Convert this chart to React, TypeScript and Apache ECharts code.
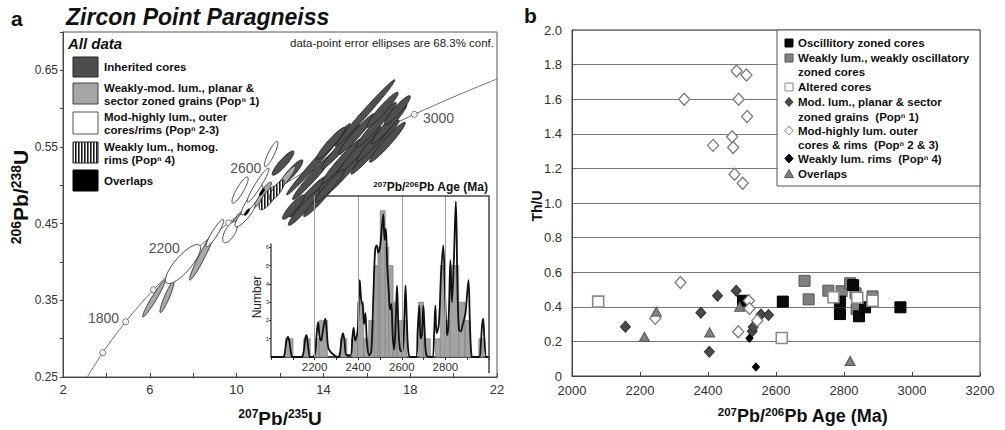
import React, { useEffect, useRef } from 'react';
import * as echarts from 'echarts';

const FONT = '"Liberation Sans", Arial, Helvetica, sans-serif';

// ---------- Panel a: concordia (values read / tabulated) ----------
const concordiaAges = [1438, 1500, 1600, 1700, 1800, 1900, 2000, 2100, 2200, 2300, 2400, 2500, 2600, 2700, 2800, 2900, 3000, 3100, 3184];
const concordiaX = [3.122, 3.381, 3.834, 4.335, 4.887, 5.496, 6.169, 6.911, 7.73, 8.633, 9.63, 10.73, 11.944, 13.283, 14.762, 16.393, 18.193, 20.179, 22.0];
const concordiaY = [0.25, 0.262, 0.2817, 0.3018, 0.3221, 0.3428, 0.3638, 0.3851, 0.4067, 0.4287, 0.4511, 0.4738, 0.4968, 0.5202, 0.544, 0.5681, 0.5926, 0.6175, 0.6387];
const concordiaMarkerAges = [1600, 1800, 2000, 2200, 2400, 2600, 2800, 3000];
const concordiaLabelAges = [1800, 2200, 2600, 3000];

// error ellipses: [207Pb/235U, 206Pb/238U, sx, sy, rho]
const inheritedCores = [
  [13.26, 0.4848, 0.823, 0.0261, 0.962],
  [13.91, 0.4852, 0.823, 0.0261, 0.962],
  [13.56, 0.5126, 0.984, 0.0312, 0.973],
  [14.38, 0.5085, 0.984, 0.0312, 0.973],
  [13.77, 0.534, 1.47, 0.0466, 0.991],
  [15.02, 0.5181, 0.984, 0.0312, 0.973],
  [14.85, 0.5319, 0.919, 0.0291, 0.969],
  [14.83, 0.5504, 0.919, 0.0291, 0.969],
  [16.38, 0.5499, 1.114, 0.0353, 0.979],
  [15.65, 0.5462, 0.984, 0.0312, 0.973],
  [15.54, 0.5673, 0.823, 0.0261, 0.962],
  [15.92, 0.5942, 1.372, 0.0435, 0.99],
  [16.46, 0.5606, 0.919, 0.0291, 0.969],
  [16.44, 0.5791, 0.919, 0.0291, 0.969],
  [17.03, 0.58, 0.823, 0.0261, 0.962],
  [16.72, 0.5986, 0.726, 0.023, 0.951],
  [17.41, 0.5981, 0.598, 0.0189, 0.927],
  [13.11, 0.4708, 0.726, 0.023, 0.951],
  [12.62, 0.4715, 0.502, 0.0159, 0.897],
  [14.3, 0.4993, 0.662, 0.021, 0.941],
  [14.34, 0.5547, 0.662, 0.021, 0.941],
  [16.95, 0.5563, 0.823, 0.0261, 0.962],
  [12.14, 0.529, 0.502, 0.0159, 0.897],
  [12.55, 0.5173, 0.502, 0.0159, 0.897],
];
const pop1Ellipses = [
  [6.19, 0.3523, 0.52, 0.0241, 0.966],
  [6.79, 0.3543, 0.324, 0.0204, 0.923],
  [8.41, 0.4078, 0.578, 0.0314, 0.964],
  [9.97, 0.4521, 0.387, 0.0151, 0.902],
  [11.17, 0.4873, 0.438, 0.0172, 0.924],
  [12.28, 0.5095, 0.439, 0.0156, 0.919],
];
const pop23Ellipses = [
  [7.53, 0.3973, 0.806, 0.0255, 0.812],
  [9.0, 0.4377, 0.408, 0.0178, 0.918],
  [9.7, 0.439, 0.341, 0.0139, 0.651],
  [10.39, 0.4612, 0.466, 0.0154, 0.863],
  [10.71, 0.4808, 0.499, 0.0195, 0.896],
  [11.59, 0.5407, 0.309, 0.0165, 0.868],
  [10.16, 0.4938, 0.373, 0.0171, 0.868],
  [10.99, 0.5003, 0.502, 0.0222, 0.946],
];
const pop4Ellipses = [
  [11.45, 0.4834, 0.416, 0.0154, 0.754],
  [11.86, 0.4938, 0.351, 0.0132, 0.783],
];
const overlapEllipses = [
  [10.48, 0.4651, 0.12, 0.0045, 0.8],
  [11.17, 0.4912, 0.12, 0.0045, 0.8],
];

// ---------- Inset: 207Pb/206Pb age histogram + probability curve ----------
const histBins = [
  [2066, 2101, 1], [2150, 2180, 1], [2200, 2222, 1], [2222, 2260, 2], [2318, 2348, 1], [2371, 2397, 1],
  [2397, 2425, 3], [2425, 2448, 1], [2448, 2474, 2], [2474, 2490, 5], [2490, 2501, 6], [2501, 2524, 8],
  [2524, 2540, 6], [2540, 2560, 5], [2560, 2578, 3], [2578, 2600, 2], [2600, 2624, 2], [2677, 2700, 3],
  [2700, 2731, 1], [2754, 2777, 1], [2777, 2800, 5], [2800, 2822, 2], [2822, 2861, 5], [2861, 2890, 3],
  [2890, 2914, 2], [2953, 2976, 1],
];
const pdpCurve = [
  [2000, 0], [2055, 0], [2064, 0.3], [2071, 0.9], [2078, 1.1], [2085, 0.8], [2092, 0.2], [2100, 0],
  [2140, 0], [2150, 0.3], [2157, 1.0], [2163, 1.2], [2170, 0.6], [2180, 0],
  [2200, 0.1], [2209, 1.2], [2216, 1.9], [2223, 1.1], [2230, 0.9], [2240, 1.6], [2249, 2.1], [2256, 1.3], [2263, 0.5], [2275, 0.25], [2290, 0.1], [2305, 0],
  [2315, 0.1], [2323, 0.9], [2330, 1.3], [2337, 0.9], [2346, 0.1],
  [2365, 0.1], [2373, 1.0], [2379, 1.6], [2386, 0.9], [2398, 1.5], [2407, 4.2], [2414, 3.1], [2421, 2.8], [2427, 1.8], [2433, 2.4], [2440, 0.8], [2450, 0.1],
  [2460, 0.3], [2470, 3.5], [2478, 5.9], [2485, 6.1], [2492, 5.7], [2500, 6.0], [2508, 7.0], [2515, 7.8], [2521, 6.4], [2527, 7.0], [2533, 5.0], [2540, 3.6], [2546, 2.6], [2552, 2.9], [2558, 1.2], [2565, 0.4],
  [2572, 2.0], [2578, 3.9], [2584, 1.8], [2592, 0.4], [2602, 0.3], [2610, 1.5], [2617, 3.9], [2623, 2.0], [2630, 0.3], [2640, 0],
  [2665, 0], [2673, 1.5], [2680, 2.8], [2686, 1.0], [2692, 1.2], [2699, 2.8], [2705, 1.4], [2713, 0.1],
  [2740, 0], [2748, 1.2], [2754, 2.8], [2760, 1.3], [2770, 1.8], [2780, 4.5], [2790, 6.1], [2797, 4.0], [2804, 1.7], [2810, 1.2], [2816, 2.5], [2823, 5.3], [2830, 3.0], [2838, 5.0], [2848, 8.5], [2855, 4.0], [2862, 1.5],
  [2870, 1.4], [2880, 1.8], [2892, 2.4], [2900, 3.5], [2906, 4.2], [2912, 2.0], [2918, 0.3], [2925, 0],
  [2955, 0], [2962, 0.6], [2968, 1.7], [2973, 2.1], [2979, 1.0], [2988, 0], [3000, 0],
];
const insetGridAges = [2200, 2400, 2600, 2800];
const insetTickLabels = [2200, 2400, 2600, 2800];
const insetCountTicks = [1, 2, 3, 4, 5, 6];

// ---------- Panel b: Th/U vs age ----------
const oscillatoryCores = [[2503, 0.435], [2620, 0.43], [2788, 0.43], [2788, 0.358], [2827, 0.525], [2844, 0.345], [2862, 0.397], [2966, 0.397]];
const weaklyOscCores = [[2684, 0.55], [2696, 0.443], [2754, 0.493], [2793, 0.49], [2818, 0.536], [2834, 0.478], [2837, 0.387], [2884, 0.46]];
const alteredCores = [[2077, 0.43], [2617, 0.22], [2769, 0.455], [2839, 0.453], [2884, 0.435]];
const pop1Grains = [[2157, 0.285], [2379, 0.366], [2404, 0.14], [2428, 0.464], [2483, 0.493], [2530, 0.258], [2533, 0.283], [2556, 0.355], [2578, 0.352]];
const pop23Rims = [
  [2484, 1.763], [2513, 1.74], [2330, 1.6], [2490, 1.6], [2515, 1.5], [2471, 1.383], [2415, 1.333], [2474, 1.321], [2478, 1.166], [2502, 1.114],
  [2319, 0.54], [2245, 0.333], [2520, 0.435], [2522, 0.39], [2489, 0.256], [2545, 0.32],
];
const pop4Rims = [[2522, 0.218], [2541, 0.052]];
const overlapsB = [[2213, 0.227], [2248, 0.372], [2405, 0.252], [2493, 0.4], [2818, 0.087]];

// ---------- helpers ----------
function hatchPattern(): any {
  const c = document.createElement('canvas');
  c.width = 3;
  c.height = 3;
  const g = c.getContext('2d');
  if (g) {
    g.fillStyle = '#ffffff';
    g.fillRect(0, 0, 3, 3);
    g.fillStyle = '#1a1a1a';
    g.fillRect(0, 0, 1.6, 3);
  }
  return { image: c, repeat: 'repeat', imageWidth: 3, imageHeight: 3 };
}

function ellipseRenderer(style: any) {
  return (params: any, api: any) => {
    const c = api.coord([api.value(0), api.value(1)]);
    const sz = api.size([api.value(2), api.value(3)]);
    const r = api.value(4);
    const p = Math.abs(sz[0]);
    const q = Math.abs(sz[1]);
    const a2 = p * p;
    const b2 = q * q;
    const cov = r * p * q;
    const mid = (a2 + b2) / 2;
    const d = Math.sqrt(((a2 - b2) / 2) ** 2 + cov * cov);
    const ra = Math.sqrt(mid + d);
    const rb = Math.sqrt(Math.max(mid - d, 1));
    const phi = 0.5 * Math.atan2(2 * cov, a2 - b2);
    const pts: number[][] = [];
    for (let i = 0; i < 60; i++) {
      const t = (i / 60) * Math.PI * 2;
      const X = ra * Math.cos(t) * Math.cos(phi) - rb * Math.sin(t) * Math.sin(phi);
      const Y = ra * Math.cos(t) * Math.sin(phi) + rb * Math.sin(t) * Math.cos(phi);
      pts.push([c[0] + X, c[1] - Y]);
    }
    return { type: 'polygon', shape: { points: pts }, style: { ...style } };
  };
}

function txt(x: number, y: number, text: string, o: any = {}) {
  return {
    type: 'text',
    x,
    y,
    z: 100,
    rotation: o.rotation || 0,
    style: {
      text,
      fill: o.fill || '#111',
      fontFamily: FONT,
      fontSize: o.fontSize || 11,
      fontWeight: o.fontWeight || 'normal',
      fontStyle: o.fontStyle || 'normal',
      textAlign: o.align || 'left',
      textVerticalAlign: 'middle',
    },
  };
}

function supText(x: number, y: number, parts: [string, boolean][], main: number, sup: number, o: any = {}) {
  const text = parts.map(([t, s]) => `{${s ? 's' : 'm'}|${t}}`).join('');
  return {
    type: 'text',
    x,
    y,
    z: 100,
    rotation: o.rotation || 0,
    style: {
      text,
      textAlign: o.align || 'center',
      textVerticalAlign: 'middle',
      rich: {
        m: { fontSize: main, fontWeight: 'bold', fontFamily: FONT, fill: '#111', lineHeight: main + 2 },
        s: { fontSize: sup, fontWeight: 'bold', fontFamily: FONT, fill: '#111', lineHeight: sup, verticalAlign: 'top' },
      },
    },
  };
}

function rect(x: number, y: number, w: number, h: number, fill: any, stroke: string, lw = 1) {
  return { type: 'rect', z: 100, shape: { x, y, width: w, height: h }, style: { fill, stroke, lineWidth: lw } };
}

function diamond(cx: number, cy: number, r: number, fill: string, stroke: string, lw = 1) {
  return {
    type: 'polygon',
    z: 101,
    shape: { points: [[cx, cy - r], [cx + r * 0.9, cy], [cx, cy + r], [cx - r * 0.9, cy]] },
    style: { fill, stroke, lineWidth: lw },
  };
}

function triangle(cx: number, cy: number, r: number, fill: string, stroke: string) {
  return {
    type: 'polygon',
    z: 101,
    shape: { points: [[cx, cy - r], [cx + r, cy + r * 0.8], [cx - r, cy + r * 0.8]] },
    style: { fill, stroke, lineWidth: 1 },
  };
}

const LABEL_PLACE: Record<number, any> = {
  1800: { position: 'left', distance: 3, offset: [0, -4] },
  2200: { position: 'left', distance: 4, offset: [0, -9] },
  2600: { position: 'left', distance: 14, offset: [0, -20] },
  3000: { position: 'right', distance: 5, offset: [0, 4] },
};

function buildOption(): any {
  const hatch = hatchPattern();
  const concordia = concordiaX.map((x, i) => [x, concordiaY[i]]);
  const markers = concordiaMarkerAges.map((age) => {
    const i = concordiaAges.indexOf(age);
    const showLabel = concordiaLabelAges.indexOf(age) >= 0;
    return {
      value: [concordiaX[i], concordiaY[i]],
      label: showLabel
        ? { show: true, formatter: String(age), fontSize: 14, color: '#222', fontFamily: FONT, ...LABEL_PLACE[age] }
        : { show: false },
    };
  });

  const axisLab = { color: '#333', fontFamily: FONT };

  const graphic: any[] = [
    // panel a titles
    txt(11, 18, 'a', { fontSize: 21, fontWeight: 'bold' }),
    txt(66, 17, 'Zircon Point Paragneiss', { fontSize: 23, fontWeight: 'bold', fontStyle: 'italic' }),
    txt(68, 43, 'All data', { fontSize: 15, fontWeight: 'bold', fontStyle: 'italic' }),
    txt(494, 43, 'data-point error ellipses are 68.3% conf.', { fontSize: 11.5, align: 'right', fill: '#222' }),
    // panel a legend swatches
    rect(73, 57, 25, 20, '#4d4d4d', '#222'),
    rect(73, 83, 25, 21, '#a6a6a6', '#444'),
    rect(73, 112, 25, 22, '#ffffff', '#555'),
    rect(73, 142, 25, 21, hatch, '#222'),
    rect(73, 170, 25, 21, '#000000', '#000'),
    txt(104, 67, 'Inherited cores', { fontSize: 11.5, fontWeight: 'bold' }),
    txt(104, 88, 'Weakly-mod. lum., planar &', { fontSize: 11.5, fontWeight: 'bold' }),
    txt(104, 101, 'sector zoned grains (Popⁿ 1)', { fontSize: 11.5, fontWeight: 'bold' }),
    txt(104, 117, 'Mod-highly lum., outer', { fontSize: 11.5, fontWeight: 'bold' }),
    txt(104, 130, 'cores/rims (Popⁿ 2-3)', { fontSize: 11.5, fontWeight: 'bold' }),
    txt(104, 147, 'Weakly lum., homog.', { fontSize: 11.5, fontWeight: 'bold' }),
    txt(104, 160, 'rims (Popⁿ 4)', { fontSize: 11.5, fontWeight: 'bold' }),
    txt(104, 181, 'Overlaps', { fontSize: 11.5, fontWeight: 'bold' }),
    // panel a axis titles
    supText(20, 197, [['206', true], ['Pb/', false], ['238', true], ['U', false]], 21, 14, { rotation: Math.PI / 2 }),
    supText(280, 418, [['207', true], ['Pb/', false], ['235', true], ['U', false]], 19, 12),
    // inset
    {
      type: 'polyline',
      z: 100,
      shape: { points: [[322, 196], [489, 196], [489, 373]] },
      style: { stroke: '#444', lineWidth: 1.5, fill: null },
    },
    supText(488, 187, [['207', true], ['Pb/', false], ['206', true], ['Pb Age (Ma)', false]], 12, 8, { align: 'right' }),
    txt(257, 297, 'Number', { fontSize: 12, align: 'center', rotation: Math.PI / 2, fill: '#222' }),
    // panel b
    txt(524, 15, 'b', { fontSize: 21, fontWeight: 'bold' }),
    txt(537, 206, 'Th/U', { fontSize: 14, fontWeight: 'bold', align: 'center', rotation: Math.PI / 2 }),
    supText(803, 416, [['207', true], ['Pb/', false], ['206', true], ['Pb Age (Ma)', false]], 18, 11.5),
    rect(777, 30, 203, 156, '#ffffff', '#555'),
    rect(785, 39, 8, 8, '#0a0a0a', '#000'),
    rect(785, 54, 8, 8, '#7f7f7f', '#555'),
    rect(785, 83, 8, 8, '#ffffff', '#888'),
    diamond(789, 102, 4.5, '#4a4a4a', '#333'),
    diamond(789, 130.5, 4.5, '#ffffff', '#888'),
    diamond(789, 158.5, 4.5, '#000000', '#000'),
    triangle(789, 174, 4.5, '#808080', '#555'),
    txt(798, 43, 'Oscillitory zoned cores', { fontSize: 11.5, fontWeight: 'bold' }),
    txt(798, 58, 'Weakly lum., weakly oscillatory', { fontSize: 11.5, fontWeight: 'bold' }),
    txt(798, 72, 'zoned cores', { fontSize: 11.5, fontWeight: 'bold' }),
    txt(798, 87, 'Altered cores', { fontSize: 11.5, fontWeight: 'bold' }),
    txt(798, 102, 'Mod. lum., planar & sector', { fontSize: 11.5, fontWeight: 'bold' }),
    txt(798, 116.5, 'zoned grains  (Popⁿ 1)', { fontSize: 11.5, fontWeight: 'bold' }),
    txt(798, 130.5, 'Mod-highly lum. outer', { fontSize: 11.5, fontWeight: 'bold' }),
    txt(798, 144.5, 'cores & rims  (Popⁿ 2 & 3)', { fontSize: 11.5, fontWeight: 'bold' }),
    txt(798, 158.5, 'Weakly lum. rims  (Popⁿ 4)', { fontSize: 11.5, fontWeight: 'bold' }),
    txt(798, 174, 'Overlaps', { fontSize: 11.5, fontWeight: 'bold' }),
  ];

  const scatterB = (data: number[][], symbol: string, size: any, color: string, border: string, bw = 1) => ({
    type: 'scatter',
    xAxisIndex: 2,
    yAxisIndex: 2,
    data,
    symbol,
    symbolSize: size,
    silent: true,
    itemStyle: { color, borderColor: border, borderWidth: bw, opacity: 1 },
    z: 3,
  });

  return {
    animation: false,
    textStyle: { fontFamily: FONT },
    grid: [
      { left: 63, right: 508, top: 32, bottom: 53, show: true, borderColor: '#555', borderWidth: 1 },
      { left: 271, right: 516, top: 196, bottom: 73, show: false },
      { left: 572, right: 25, top: 30, bottom: 54, show: true, borderColor: '#444', borderWidth: 1 },
    ],
    xAxis: [
      {
        gridIndex: 0, type: 'value', min: 2, max: 22, interval: 2,
        axisLine: { lineStyle: { color: '#444' } },
        axisTick: { inside: true, length: 4, lineStyle: { color: '#444' } },
        axisLabel: { ...axisLab, fontSize: 13, margin: 6, formatter: (v: number) => (Math.round(v - 2) % 4 === 0 ? String(v) : '') },
        splitLine: { show: false },
      },
      {
        gridIndex: 1, type: 'value', min: 2000, max: 3000, interval: 100,
        axisLine: { lineStyle: { color: '#000', width: 1.5 } },
        axisTick: { inside: false, length: 3, lineStyle: { color: '#333' } },
        axisLabel: { ...axisLab, fontSize: 11.5, margin: 4, customValues: insetTickLabels, formatter: (v: number) => String(v) },
        splitLine: { show: false },
      },
      {
        gridIndex: 2, type: 'value', min: 2000, max: 3200, interval: 200,
        axisLine: { lineStyle: { color: '#444' } },
        axisTick: { inside: true, length: 4, lineStyle: { color: '#444' } },
        axisLabel: { ...axisLab, fontSize: 13, margin: 8, formatter: (v: number) => String(v) },
        splitLine: { show: false },
      },
    ],
    yAxis: [
      {
        gridIndex: 0, type: 'value', min: 0.25, max: 0.7, interval: 0.05,
        axisLine: { lineStyle: { color: '#444' } },
        axisTick: { inside: false, length: 3, lineStyle: { color: '#444' } },
        axisLabel: {
          ...axisLab, fontSize: 12, margin: 5,
          formatter: (v: number) => (Math.round((v - 0.25) / 0.05) % 2 === 0 ? v.toFixed(2) : ''),
        },
        splitLine: { show: false },
      },
      {
        gridIndex: 1, type: 'value', min: 0, max: 8.8,
        axisLine: { show: false },
        axisTick: { show: true, length: 2, customValues: insetCountTicks, lineStyle: { color: '#333' } },
        axisLabel: { ...axisLab, fontSize: 6, margin: 2, customValues: insetCountTicks, formatter: (v: number) => String(v) },
        splitLine: { show: false },
      },
      {
        gridIndex: 2, type: 'value', min: 0, max: 2, interval: 0.2,
        axisLine: { lineStyle: { color: '#444' } },
        axisTick: { show: false },
        axisLabel: { ...axisLab, fontSize: 13, margin: 10, formatter: (v: number) => (v === 0 ? '0' : v.toFixed(1)) },
        splitLine: { show: true, lineStyle: { color: '#777', width: 1 } },
      },
    ],
    graphic,
    series: [
      {
        type: 'line', xAxisIndex: 0, yAxisIndex: 0, data: concordia, smooth: 0.3, showSymbol: false,
        lineStyle: { color: '#6f6f6f', width: 1 }, silent: true, z: 1,
      },
      {
        type: 'scatter', xAxisIndex: 0, yAxisIndex: 0, data: markers, symbol: 'circle', symbolSize: 6,
        itemStyle: { color: '#fff', borderColor: '#555', borderWidth: 1 }, silent: true, z: 1,
      },
      {
        type: 'custom', xAxisIndex: 0, yAxisIndex: 0, data: inheritedCores, encode: { x: 0, y: 1 }, silent: true, z: 2,
        renderItem: ellipseRenderer({ fill: '#4f4f4f', stroke: '#1c1c1c', lineWidth: 0.8 }),
      },
      {
        type: 'custom', xAxisIndex: 0, yAxisIndex: 0, data: pop1Ellipses, encode: { x: 0, y: 1 }, silent: true, z: 2,
        renderItem: ellipseRenderer({ fill: '#a8a8a8', stroke: '#222', lineWidth: 0.8 }),
      },
      {
        type: 'custom', xAxisIndex: 0, yAxisIndex: 0, data: pop23Ellipses, encode: { x: 0, y: 1 }, silent: true, z: 2,
        renderItem: ellipseRenderer({ fill: '#ffffff', stroke: '#333', lineWidth: 0.9 }),
      },
      {
        type: 'custom', xAxisIndex: 0, yAxisIndex: 0, data: pop4Ellipses, encode: { x: 0, y: 1 }, silent: true, z: 2,
        renderItem: ellipseRenderer({ fill: hatch, stroke: '#222', lineWidth: 0.8 }),
      },
      {
        type: 'custom', xAxisIndex: 0, yAxisIndex: 0, data: overlapEllipses, encode: { x: 0, y: 1 }, silent: true, z: 2,
        renderItem: ellipseRenderer({ fill: '#000', stroke: '#000', lineWidth: 0.5 }),
      },
      // inset
      {
        type: 'line', xAxisIndex: 1, yAxisIndex: 1, data: [[2000, 0], [2000, 6.2]], showSymbol: false,
        lineStyle: { color: '#222', width: 1.2 }, silent: true, z: 2,
        markLine: {
          silent: true, symbol: ['none', 'none'], label: { show: false },
          lineStyle: { color: '#a0a0a0', width: 1, type: 'solid' },
          data: insetGridAges.map((v) => ({ xAxis: v })),
        },
      },
      {
        type: 'custom', xAxisIndex: 1, yAxisIndex: 1, data: histBins, encode: { x: [0, 1], y: 2 }, silent: true, z: 3,
        renderItem: (params: any, api: any) => {
          const p0 = api.coord([api.value(0), 0]);
          const p1 = api.coord([api.value(1), api.value(2)]);
          return {
            type: 'rect',
            shape: { x: p0[0], y: p1[1], width: p1[0] - p0[0], height: p0[1] - p1[1] },
            style: { fill: '#a3a3a3', stroke: '#7a7a7a', lineWidth: 0.6 },
          };
        },
      },
      {
        type: 'line', xAxisIndex: 1, yAxisIndex: 1, data: pdpCurve, smooth: 0.35, showSymbol: false,
        lineStyle: { color: '#111', width: 1.8 }, silent: true, z: 4,
      },
      // panel b
      scatterB(weaklyOscCores, 'rect', 11, '#7f7f7f', '#555'),
      scatterB(oscillatoryCores, 'rect', 11, '#0a0a0a', '#000'),
      scatterB(alteredCores, 'rect', 11, '#ffffff', '#8a8a8a', 1.6),
      scatterB(pop1Grains, 'diamond', [10, 11], '#4a4a4a', '#333'),
      scatterB(pop23Rims, 'diamond', [11, 12], '#ffffff', '#7a7a7a', 1.3),
      scatterB(pop4Rims, 'diamond', [7, 8], '#000000', '#000'),
      scatterB(overlapsB, 'triangle', [10, 9], '#808080', '#555'),
    ],
  };
}

export default function App() {
  const ref = useRef<HTMLDivElement>(null);
  useEffect(() => {
    if (!ref.current) return;
    const chart = echarts.init(ref.current, undefined, { renderer: 'svg' });
    chart.setOption(buildOption());
    return () => chart.dispose();
  }, []);
  return <div ref={ref} style={{ position: 'fixed', left: 0, top: 0, width: 1005, height: 430, background: '#fff' }} />;
}
